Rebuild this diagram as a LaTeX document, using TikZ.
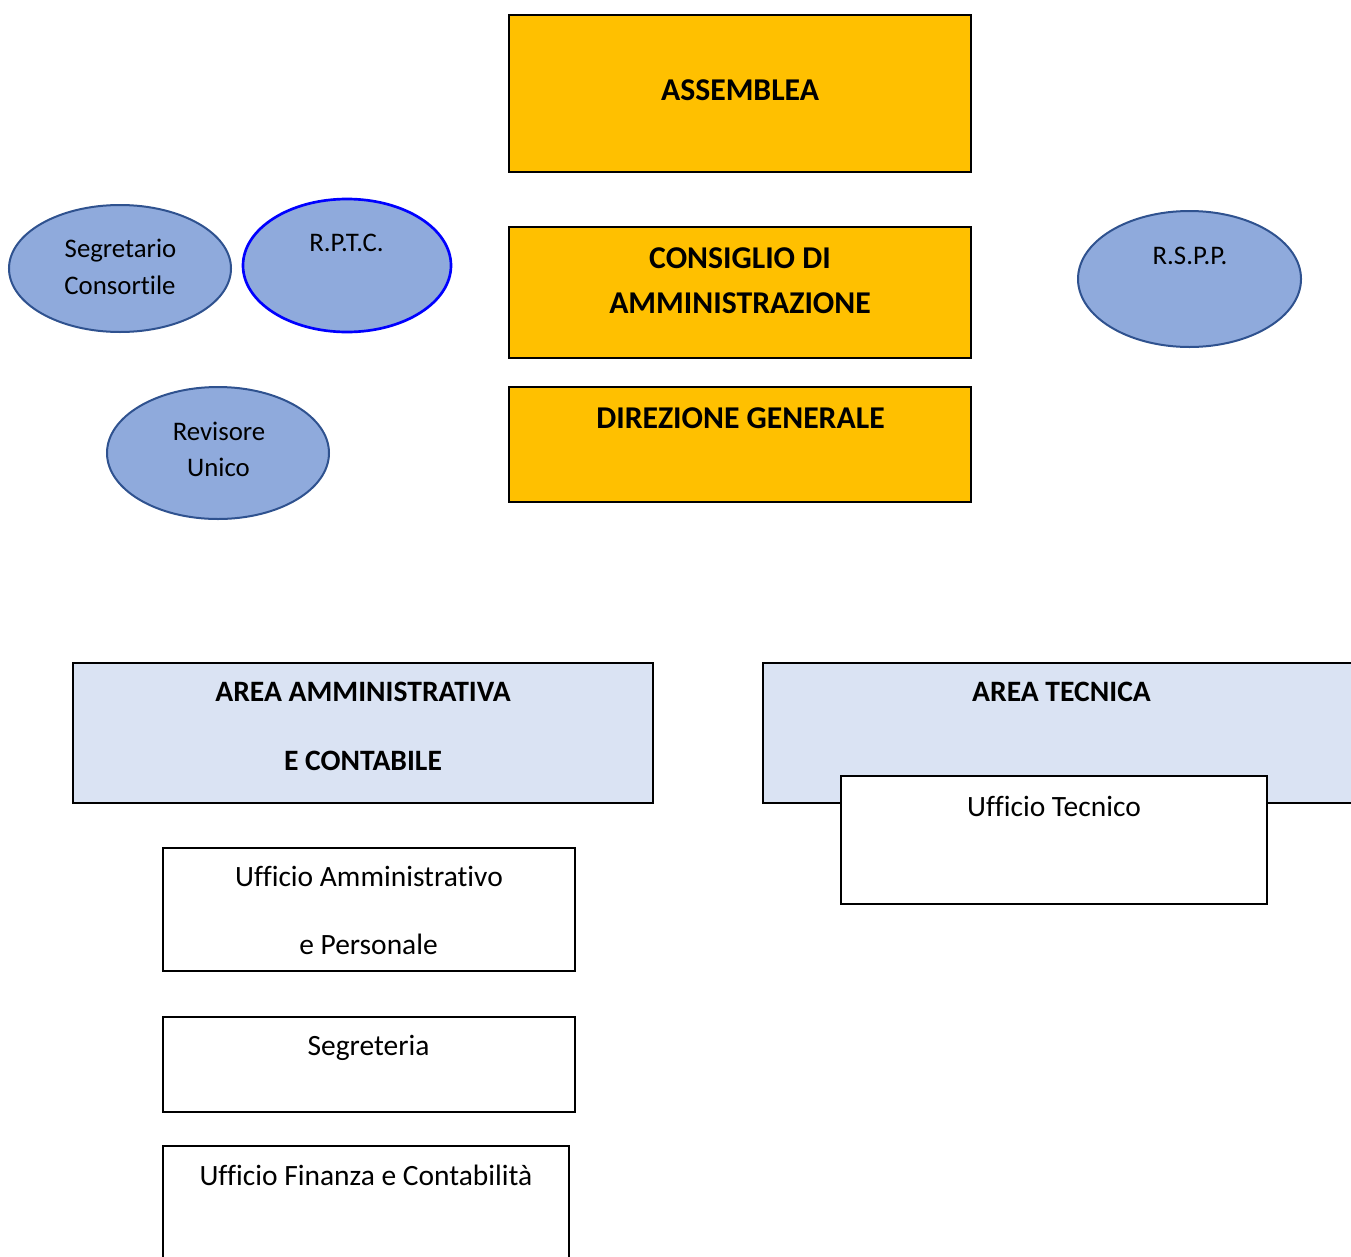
\documentclass[tikz,border=0pt]{standalone}
\usepackage{fontspec}
\setmainfont{Carlito}[Ligatures=NoCommon]
\usetikzlibrary{shapes.geometric}
\definecolor{orangefill}{HTML}{FFC000}
\definecolor{areafill}{HTML}{DAE3F3}
\definecolor{ellfill}{HTML}{8FAADC}
\definecolor{elldraw}{HTML}{2F528F}
\definecolor{rptcdraw}{HTML}{0000FF}
\tikzset{
  px/.style 2 args={minimum width=#1*0.75pt, minimum height=#2*0.75pt},
  shapebox/.style={draw=black, line width=1.5pt, inner sep=0pt, outer sep=0pt, rectangle},
  topbox/.style={shapebox, fill=orangefill},
  areabox/.style={shapebox, fill=areafill},
  officebox/.style={shapebox, fill=white},
  oval/.style={ellipse, draw=elldraw, line width=1.5pt, fill=ellfill, inner sep=0pt, outer sep=0pt},
  txt/.style={inner sep=0pt, text depth=0pt, anchor=center},
  topfont/.style={txt, text height=15.0pt, font=\fontsize{23.8}{28}\selectfont\bfseries},
  areafont/.style={txt, text height=14.0pt, font=\fontsize{22.2}{26}\selectfont\bfseries},
  officefont/.style={txt, text height=13.9pt, font=\fontsize{22.1}{26}\selectfont},
  ovalfont/.style={txt, text height=12.7pt, font=\fontsize{20.1}{24}\selectfont}
}
\begin{document}
\begin{tikzpicture}[x=0.75pt, y=-0.75pt]
\useasboundingbox (0,0) rectangle (1351,1256);
\clip (0,0) rectangle (1351,1256);
% top boxes
\node[topbox, px={462}{157}] (assemblea) at (740,93.5) {};
\node[topfont] (assembleaT) at (740,90) {ASSEMBLEA};
\node[topbox, px={462}{131}] (cda) at (740,292.5) {};
\node[topfont] (cdaT1) at (740,258) {CONSIGLIO DI};
\node[topfont] (cdaT2) at (740,303) {AMMINISTRAZIONE};
\node[topbox, px={462}{115}] (dg) at (740,444.5) {};
\node[topfont] (dgT) at (740.5,418) {DIREZIONE GENERALE};
% ovals
\node[oval, px={222}{127}] (segr) at (120,268.5) {};
\node[ovalfont] (segrT1) at (120.5,249) {Segretario};
\node[ovalfont] (segrT2) at (120,286) {Consortile};
\node[oval, draw=rptcdraw, line width=2pt, px={208}{133}] (rptc) at (347,265.5) {};
\node[ovalfont] (rptcT) at (346.5,243.5) {R.P.T.C.};
\node[oval, px={223}{136}] (rspp) at (1189.5,279) {};
\node[ovalfont] (rsppT) at (1190,256) {R.S.P.P.};
\node[oval, px={222}{132}] (rev) at (218,453) {};
\node[ovalfont] (revT1) at (219,432) {Revisore};
\node[ovalfont] (revT2) at (218.5,468.5) {Unico};
% areas
\node[areabox, px={580}{140}] (aamm) at (363,733) {};
\node[areafont] (aammT1) at (363,692.5) {AREA AMMINISTRATIVA};
\node[areafont] (aammT2) at (363,761) {E CONTABILE};
\node[areabox, px={620}{140}] (atec) at (1073,733) {};
\node[areafont] (atecT) at (1061.5,692.5) {AREA TECNICA};
% offices
\node[officebox, px={426}{128}] (utec) at (1054,840) {};
\node[officefont] (utecT) at (1054,807) {Ufficio Tecnico};
\node[officebox, px={412}{123}] (uamm) at (369,909.5) {};
\node[officefont] (uammT1) at (369,877) {Ufficio Amministrativo};
\node[officefont] (uammT2) at (368.5,945) {e Personale};
\node[officebox, px={412}{95}] (segrt) at (369,1064.5) {};
\node[officefont] (segrtT) at (368.5,1046) {Segreteria};
\node[officebox, px={406}{140}] (ufin) at (366,1216) {};
\node[officefont] (ufinT) at (366,1176) {Ufficio Finanza e Contabilità};
\end{tikzpicture}
\end{document}
